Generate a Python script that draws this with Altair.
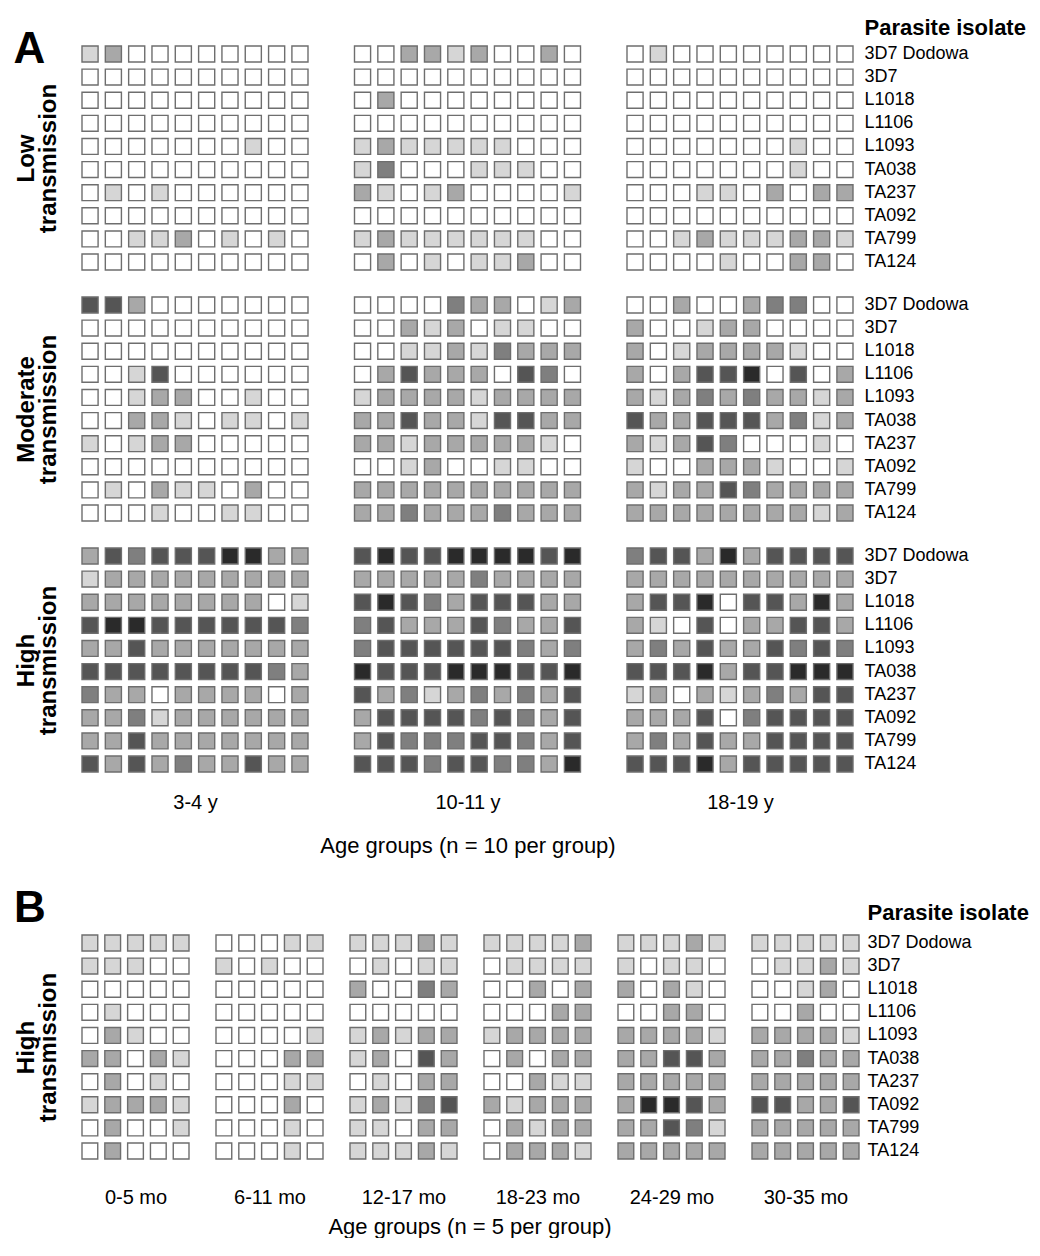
import altair as alt
import pandas as pd

ISOLATES = ["3D7 Dodowa", "3D7", "L1018", "L1106", "L1093",
            "TA038", "TA237", "TA092", "TA799", "TA124"]
LEVELS = [0, 1, 2, 3, 4, 5]
SHADES = ["#ffffff", "#d6d6d6", "#a8a8a8", "#7f7f7f", "#555555", "#2a2a2a"]

A_AGE_GROUPS = ["3-4 y", "10-11 y", "18-19 y"]
A_SETTINGS = [["Low", "transmission"], ["Moderate", "transmission"], ["High", "transmission"]]
A_AXIS_TITLE = "Age groups (n = 10 per group)"
B_AGE_GROUPS = ["0-5 mo", "6-11 mo", "12-17 mo", "18-23 mo", "24-29 mo", "30-35 mo"]
B_SETTING = ["High", "transmission"]
B_AXIS_TITLE = "Age groups (n = 5 per group)"

# Panel A: one string per isolate, one digit per individual (0 = white ... 5 = darkest)
LOW_3_4 = ["1200000000", "0000000000", "0000000000", "0000000000", "0000000100",
           "0000000000", "0101000000", "0000000000", "0011201010", "0000000000"]
LOW_10_11 = ["0022120020", "0000000000", "0200000000", "0000000000", "1211111000",
             "1300011100", "2101200001", "0000000000", "1211111100", "0201011200"]
LOW_18_19 = ["0100000000", "0000000000", "0000000000", "0000000000", "0000000100",
             "0000000100", "0001102022", "0000000000", "0012111221", "0000100220"]
MOD_3_4 = ["4420000000", "0000000000", "0000000000", "0014000000", "0012200100",
           "0022101101", "1012200000", "0000000000", "0102110200", "0001001100"]
MOD_10_11 = ["0000322012", "0021201100", "0011213222", "0242220430", "1222212222",
             "2242214422", "2212222210", "0012001100", "2222222222", "2232223222"]
MOD_18_19 = ["0020023300", "2001220000", "2012222100", "2024450402", "2123232212",
             "4224442312", "2124300010", "1002221001", "2122432222", "2222222212"]
HIGH_3_4 = ["2434445522", "1222222222", "2222222201", "4554444443", "2242222222",
            "4444444432", "3220222202", "2231222222", "2242222222", "4242322422"]
HIGH_10_11 = ["4544555545", "2222232222", "4543244422", "3422243224", "3444444323",
              "5444555445", "4231232324", "2444434324", "2433344324", "4443443325"]
HIGH_18_19 = ["3442524444", "2222222222", "2445044252", "2104022442", "2324224343",
              "4445244555", "1202123244", "2224034444", "2324224444", "4445244444"]

# Panel B
B_0_5 = ["11111", "11100", "00000", "01000", "02100", "22021", "02010", "12221", "02001", "02000"]
B_6_11 = ["00011", "10100", "00000", "00000", "00001", "00022", "00011", "00020", "00010", "00010"]
B_12_17 = ["11121", "01011", "20032", "00000", "12122", "12042", "01022", "12134", "11022", "11121"]
B_18_23 = ["11112", "01111", "00202", "00022", "12222", "02022", "00211", "21222", "02122", "02221"]
B_24_29 = ["11121", "10110", "20210", "00220", "22221", "22442", "22222", "25542", "22431", "22222"]
B_30_35 = ["11111", "01121", "00120", "00200", "22221", "22322", "22222", "44224", "22222", "22222"]

FONT = "Liberation Sans"
STROKE = "#6e6e6e"
CELL_PAD = 0.31


def to_frame(rows):
    recs = []
    for iso, row in zip(ISOLATES, rows):
        for k, ch in enumerate(row, start=1):
            recs.append({"isolate": iso, "individual": k, "level": int(ch)})
    return pd.DataFrame(recs)


def block(rows, width, height=224, left=None, right=False, parasite_y=None,
          bottom=None, bottom_pad=20, letter=None, label_pad=11):
    if bottom is not None:
        x_axis = alt.Axis(orient="bottom", title=bottom, labels=False, ticks=False,
                          domain=False, minExtent=0, titlePadding=bottom_pad, titleFontSize=20,
                          titleFontWeight="normal", titleColor="#000")
    elif letter is not None:
        x_axis = alt.Axis(orient="top", title=letter, labels=False, ticks=False,
                          domain=False, minExtent=0, titleX=-69, titleY=16,
                          titleAlign="left", titleBaseline="alphabetic", titleAnchor="start",
                          titleFontSize=44, titleFontWeight="bold", titleColor="#000")
    else:
        x_axis = None

    if left is not None:
        y_axis = alt.Axis(orient="left", title=left, labels=False, ticks=False,
                          domain=False, minExtent=0, titlePadding=22, titleFontSize=24,
                          titleFontWeight="bold", titleLineHeight=22, titleColor="#000")
    elif right:
        kw = dict(orient="right", labels=True, ticks=False, domain=False, minExtent=0,
                  labelPadding=label_pad, labelFontSize=18, labelColor="#000")
        if parasite_y is not None:
            kw.update(title="Parasite isolate", titleAngle=0, titleAlign="left",
                      titleBaseline="middle", titleX=label_pad, titleY=parasite_y,
                      titleFontSize=22, titleFontWeight="bold", titleColor="#000")
        else:
            kw.update(title=None)
        y_axis = alt.Axis(**kw)
    else:
        y_axis = None

    return alt.Chart(to_frame(rows)).mark_rect(stroke=STROKE, strokeWidth=1.4).encode(
        x=alt.X("individual:O", axis=x_axis,
                scale=alt.Scale(paddingInner=CELL_PAD, paddingOuter=0)),
        y=alt.Y("isolate:O", sort=ISOLATES, axis=y_axis,
                scale=alt.Scale(paddingInner=CELL_PAD, paddingOuter=0)),
        color=alt.Color("level:O", scale=alt.Scale(domain=LEVELS, range=SHADES), legend=None),
    ).properties(width=width, height=height)


WA = 226
low = alt.hconcat(
    block(LOW_3_4, WA, left=A_SETTINGS[0], letter="A"),
    block(LOW_10_11, WA),
    block(LOW_18_19, WA, right=True, parasite_y=-19),
    spacing=46.5, bounds="flush")
mod = alt.hconcat(
    block(MOD_3_4, WA, left=A_SETTINGS[1]),
    block(MOD_10_11, WA),
    block(MOD_18_19, WA, right=True),
    spacing=46.5, bounds="flush")
high = alt.hconcat(
    block(HIGH_3_4, WA, left=A_SETTINGS[2], bottom=A_AGE_GROUPS[0]),
    block(HIGH_10_11, WA, bottom=A_AGE_GROUPS[1]),
    block(HIGH_18_19, WA, right=True, bottom=A_AGE_GROUPS[2]),
    spacing=46.5, bounds="flush").properties(
    title=alt.TitleParams(A_AXIS_TITLE, orient="bottom", anchor="middle", frame="group",
                          dx=386, fontSize=22, fontWeight="normal", offset=24, color="#000"))
panel_a = alt.vconcat(low, mod, high, spacing=24)

WB = 107
b_data = [B_0_5, B_6_11, B_12_17, B_18_23, B_24_29, B_30_35]
b_blocks = []
for i, (rows, age) in enumerate(zip(b_data, B_AGE_GROUPS)):
    last = i == len(b_data) - 1
    b_blocks.append(block(rows, WB,
                          left=B_SETTING if i == 0 else None,
                          right=last,
                          parasite_y=-23 if last else None,
                          bottom=age, bottom_pad=28, label_pad=8))
b_row = alt.hconcat(*b_blocks, spacing=27, bounds="flush").properties(
    title=alt.TitleParams(B_AXIS_TITLE, orient="bottom", anchor="middle",
                          frame="group", dx=388, fontSize=22, fontWeight="normal", offset=10,
                          color="#000"))
panel_b = alt.vconcat(b_row).properties(
    title=alt.TitleParams("B", anchor="start", fontSize=44, fontWeight="bold",
                          offset=-30, color="#000"))

chart = alt.vconcat(panel_a, panel_b, spacing=30).properties(
    padding={"left": 5, "top": 8, "right": 0, "bottom": 0}
).configure(font=FONT).configure_view(stroke=None)

chart.save("out.html", embed_options={"renderer": "svg", "actions": False})
